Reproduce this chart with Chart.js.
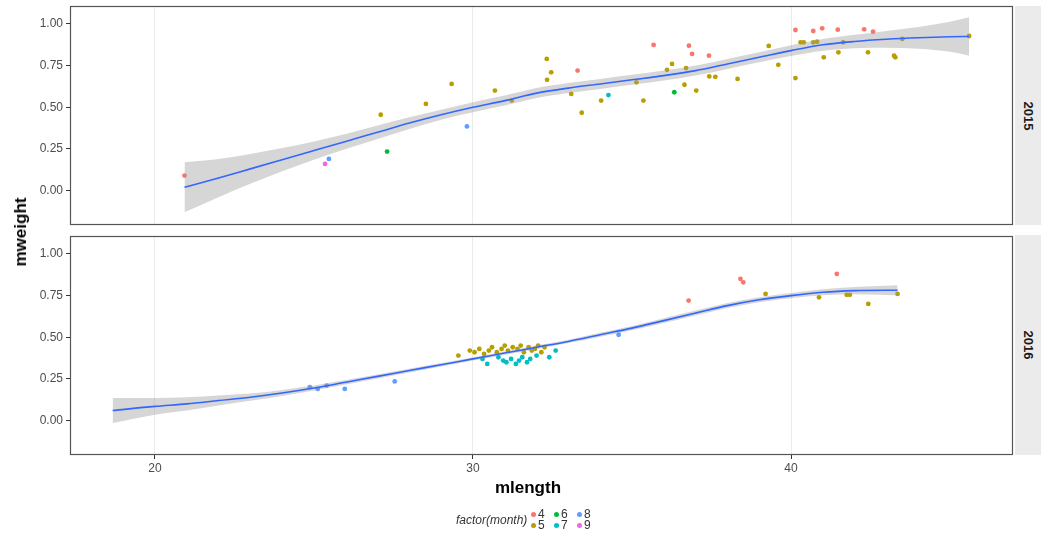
<!DOCTYPE html>
<html><head><meta charset="utf-8">
<script src="https://cdn.jsdelivr.net/npm/chart.js@4"></script>
<style>
body{margin:0;background:#fff;width:1048px;height:539px;overflow:hidden;position:relative;font-family:"Liberation Sans",Arial,sans-serif}
canvas{position:absolute;left:0}
#c1{top:0}
#c2{top:232px}
.strip{position:absolute;left:1015px;width:26px;background:#EBEBEB}
.strip span{position:absolute;left:50%;top:50%;transform:translate(-50%,-50%) rotate(90deg);font-weight:bold;font-size:13px;color:#1a1a1a}
.ttl{position:absolute;font-weight:bold;font-size:17px;color:#000;white-space:nowrap}
#ytitle{left:21px;top:232px;transform:translate(-50%,-50%) rotate(-90deg)}
#xtitle{left:528px;top:488px;transform:translate(-50%,-50%)}
#lgtitle{position:absolute;left:456px;top:513px;font-style:italic;font-size:12px;color:#333}
.lk{position:absolute;font-size:12px;color:#333}
.dot{position:absolute;width:5px;height:5px;border-radius:50%}
</style></head>
<body>
<canvas id="c1" width="1048" height="232"></canvas>
<canvas id="c2" width="1048" height="250"></canvas>
<div class="strip" style="top:6px;height:219px"><span>2015</span></div>
<div class="strip" style="top:235px;height:220px"><span>2016</span></div>
<div class="ttl" id="ytitle">mweight</div>
<div class="ttl" id="xtitle">mlength</div>
<div id="lgtitle">factor(month)</div>
<div id="legend"></div>
<script>
// ---- data ----
const months = [4, 5, 6, 7, 8, 9];
const monthColors = ['#F8766D', '#B79F00', '#00BA38', '#00BFC4', '#619CFF', '#F564E3'];
const xTicks = [20, 30, 40];
const yTicks = [0, 0.25, 0.5, 0.75, 1];
const panels = ['2015', '2016'];

const len2015 = [20.93,25.35,25.47,27.1,27.3,28.52,29.33,29.81,30.69,31.22,32.32,32.46,32.33,33.29,33.09,33.42,34.03,34.26,35.14,35.36,35.68,36.1,36.26,36.33,36.65,36.7,36.79,36.89,37.02,37.42,37.43,37.62,38.32,39.3,39.6,40.14,40.14,40.3,40.4,40.7,40.7,40.82,40.98,41.03,41.47,41.49,41.64,42.3,42.42,42.58,43.24,43.28,43.5,45.6];
const wt2015 = [0.09,0.16,0.19,0.455,0.234,0.52,0.64,0.385,0.60,0.54,0.79,0.71,0.665,0.72,0.58,0.467,0.54,0.573,0.65,0.54,0.874,0.725,0.76,0.59,0.635,0.735,0.87,0.82,0.60,0.81,0.685,0.683,0.67,0.868,0.755,0.964,0.675,0.89,0.89,0.958,0.89,0.894,0.974,0.80,0.966,0.83,0.89,0.968,0.83,0.954,0.81,0.80,0.91,0.928];
const mon2015 = [4,9,8,5,6,5,5,8,5,5,5,5,5,4,5,5,5,7,5,5,4,5,5,6,5,5,4,4,5,4,5,5,5,5,5,4,5,5,5,4,5,5,4,5,4,5,5,4,5,4,5,5,5,5];

const len2016 = [24.87,25.12,25.4,25.97,27.54,29.54,29.9,30.05,30.2,30.35,30.5,30.6,30.75,30.9,31.0,31.1,31.25,31.4,31.5,31.6,31.75,31.85,31.95,32.05,32.15,32.25,30.3,30.45,30.8,30.95,31.05,31.2,31.35,31.45,31.55,31.7,31.8,32.0,32.4,32.6,34.58,36.78,38.41,38.5,39.2,40.88,41.44,41.75,41.85,42.43,43.35];
const wt2016 = [0.20,0.19,0.21,0.19,0.235,0.39,0.42,0.41,0.43,0.40,0.42,0.44,0.41,0.43,0.45,0.42,0.44,0.43,0.45,0.41,0.44,0.42,0.43,0.45,0.41,0.44,0.37,0.34,0.38,0.36,0.35,0.37,0.34,0.36,0.38,0.35,0.37,0.39,0.38,0.42,0.515,0.72,0.85,0.83,0.76,0.74,0.88,0.755,0.755,0.70,0.76];
const mon2016 = [8,8,8,8,8,5,5,5,5,5,5,5,5,5,5,5,5,5,5,5,5,5,5,5,5,5,7,7,7,7,7,7,7,7,7,7,7,7,7,7,8,4,4,4,5,5,4,5,5,5,5];

const smoothX2015 = [20.93,22,23,24,25,26,27,28,29,30,31,32,33,34,35,36,37,38,39,40,41,42,43,44,45,45.6];
const smoothY2015 = [0.02,0.075,0.13,0.185,0.24,0.295,0.35,0.405,0.455,0.50,0.54,0.585,0.615,0.64,0.665,0.69,0.72,0.76,0.80,0.84,0.875,0.895,0.908,0.917,0.923,0.925];
const bandLo2015 = [-0.13,-0.04,0.04,0.115,0.185,0.25,0.31,0.37,0.425,0.47,0.51,0.555,0.585,0.61,0.635,0.66,0.69,0.73,0.77,0.808,0.84,0.855,0.858,0.852,0.833,0.81];
const bandHi2015 = [0.17,0.19,0.22,0.255,0.295,0.34,0.39,0.44,0.485,0.53,0.57,0.615,0.645,0.67,0.695,0.72,0.75,0.79,0.83,0.872,0.91,0.935,0.958,0.982,1.013,1.04];

const smoothX2016 = [18.67,20,21,22,23,24,25,26,27,28,29,30,31,32,33,34,35,36,37,38,39,40,41,42,43,43.35];
const smoothY2016 = [0.06,0.085,0.10,0.12,0.14,0.165,0.195,0.23,0.265,0.30,0.335,0.37,0.405,0.44,0.475,0.515,0.555,0.60,0.645,0.69,0.725,0.75,0.77,0.78,0.782,0.782];
const bandLo2016 = [-0.015,0.035,0.06,0.09,0.118,0.147,0.18,0.217,0.253,0.289,0.325,0.36,0.395,0.43,0.465,0.503,0.542,0.586,0.63,0.675,0.71,0.734,0.752,0.758,0.754,0.752];
const bandHi2016 = [0.135,0.135,0.14,0.15,0.162,0.183,0.21,0.243,0.277,0.311,0.345,0.38,0.415,0.45,0.485,0.527,0.568,0.614,0.66,0.705,0.74,0.766,0.788,0.802,0.81,0.812];

// ---- build ----
const zip = (xs, ys) => xs.map((x, i) => ({x: x, y: ys[i]}));

function datasetsFor(lens, wts, mons, sx, sy, lo, hi) {
  const ds = [
    {data: zip(sx, sy), showLine: true, borderColor: '#3366FF', borderWidth: 1.6, pointRadius: 0, fill: false, cubicInterpolationMode: 'monotone'},
    {data: zip(sx, hi), showLine: true, borderWidth: 0, borderColor: 'rgba(0,0,0,0)', pointRadius: 0, fill: '+1', backgroundColor: 'rgba(153,153,153,0.4)', cubicInterpolationMode: 'monotone'},
    {data: zip(sx, lo), showLine: true, borderWidth: 0, borderColor: 'rgba(0,0,0,0)', pointRadius: 0, fill: false, cubicInterpolationMode: 'monotone'}
  ];
  months.forEach((m, k) => {
    const pts = [];
    lens.forEach((l, i) => { if (mons[i] === m) pts.push({x: l, y: wts[i]}); });
    ds.push({data: pts, pointRadius: 2.4, pointBorderWidth: 0, backgroundColor: monthColors[k], pointBackgroundColor: monthColors[k]});
  });
  return ds;
}

const borderPlugin = {
  id: 'panelBorder',
  afterDraw(chart) {
    const a = chart.chartArea, c = chart.ctx;
    c.save(); c.strokeStyle = '#555'; c.lineWidth = 1.2;
    c.strokeRect(a.left + 0.5, a.top + 0.5, a.right - a.left - 1, a.bottom - a.top - 1);
    c.restore();
  }
};

function makeChart(id, datasets, showX, pad) {
  return new Chart(document.getElementById(id), {
    type: 'scatter',
    data: {datasets: datasets},
    plugins: [borderPlugin],
    options: {
      responsive: false, animation: false, devicePixelRatio: 1,
      layout: {padding: pad},
      plugins: {legend: {display: false}, tooltip: {enabled: false}},
      scales: {
        x: {
          type: 'linear', min: 17.33, max: 46.98,
          afterBuildTicks: s => { s.ticks = xTicks.map(v => ({value: v})); },
          afterFit: s => { s.height = showX ? 20 : 0; s.paddingLeft = 0; s.paddingRight = 0; },
          grid: {color: '#EBEBEB', lineWidth: 1, drawTicks: showX, tickLength: 4, tickColor: '#333'},
          border: {display: false},
          ticks: {display: showX, color: '#4D4D4D', font: {family: 'Liberation Sans', size: 12}, padding: 2, maxRotation: 0}
        },
        y: {
          min: -0.207, max: 1.108,
          afterBuildTicks: s => { s.ticks = yTicks.map(v => ({value: v})); },
          afterFit: s => { s.width = 70; s.paddingTop = 0; s.paddingBottom = 0; },
          grid: {display: true, drawOnChartArea: false, tickLength: 4, tickColor: '#333'},
          border: {display: false},
          ticks: {callback: v => v.toFixed(2), color: '#4D4D4D', font: {family: 'Liberation Sans', size: 12}, padding: 3}
        }
      }
    }
  });
}

makeChart('c1', datasetsFor(len2015, wt2015, mon2015, smoothX2015, smoothY2015, bandLo2015, bandHi2015), false, {top: 6, bottom: 7, left: 0, right: 35});
makeChart('c2', datasetsFor(len2016, wt2016, mon2016, smoothX2016, smoothY2016, bandLo2016, bandHi2016), true, {top: 3, bottom: 7, left: 0, right: 35});

// legend: 2 rows x 3 columns
const lg = document.getElementById('legend');
months.forEach((m, k) => {
  const col = Math.floor(k / 2), row = k % 2;
  const x = 533 + col * 23, y = 514 + row * 11;
  const d = document.createElement('div'); d.className = 'dot';
  d.style.left = (x - 2.5) + 'px'; d.style.top = (y - 2.5) + 'px'; d.style.background = monthColors[k];
  lg.appendChild(d);
  const t = document.createElement('div'); t.className = 'lk'; t.textContent = String(m);
  t.style.left = (x + 5) + 'px'; t.style.top = (y - 7) + 'px';
  lg.appendChild(t);
});
</script>
</body></html>
